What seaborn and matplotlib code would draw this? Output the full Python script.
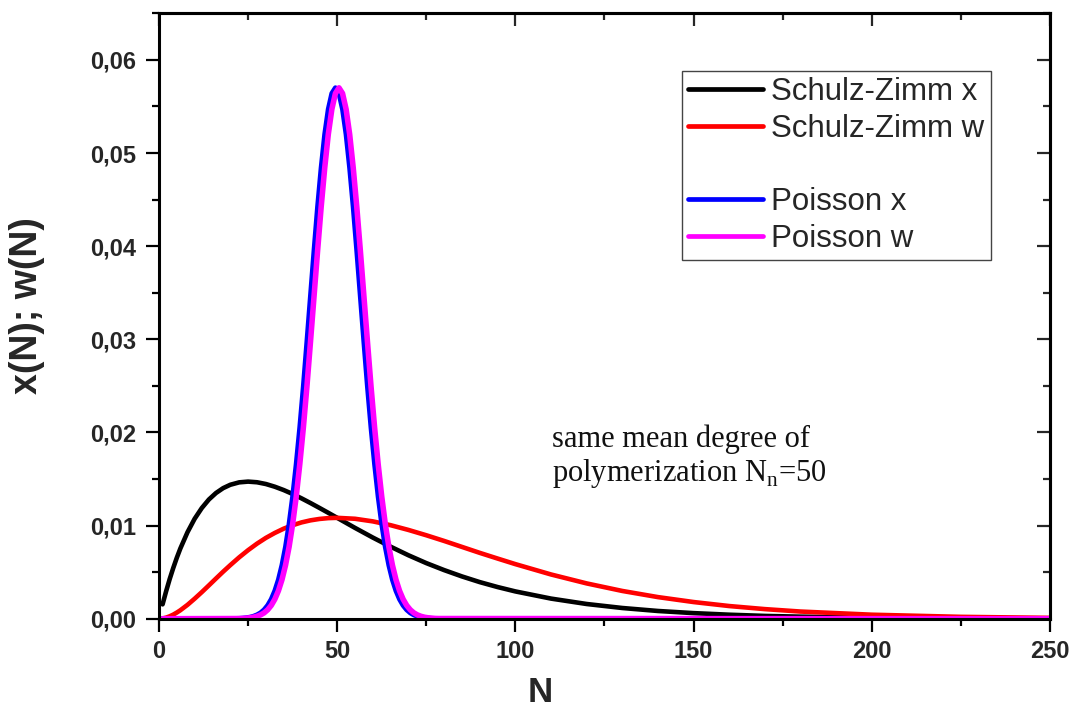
import numpy as np
import pandas as pd
import matplotlib
matplotlib.use("Agg")
import matplotlib.pyplot as plt
from matplotlib.lines import Line2D
import seaborn as sns

# ---------------- data ----------------
sz_N = [1, 2, 3, 4, 5, 6, 8, 10, 12, 14, 16, 18, 20, 22.5, 25, 27.5, 30, 32.5, 35,
        37.5, 40, 42.5, 45, 47.5, 50, 55, 60, 65, 70, 75, 80, 85, 90, 95, 100,
        110, 120, 130, 140, 150, 160, 170, 180, 200, 225, 250]
sz_x = [0.00154, 0.00295, 0.00426, 0.00545, 0.00655, 0.00755, 0.00929, 0.01073,
        0.01188, 0.01280, 0.01350, 0.01402, 0.01438, 0.01464, 0.01472, 0.01465,
        0.01446, 0.01417, 0.01381, 0.01339, 0.01292, 0.01242, 0.01190, 0.01137,
        0.01083, 0.00975, 0.00871, 0.00773, 0.00681, 0.00597, 0.00522, 0.00454,
        0.00393, 0.00340, 0.00293, 0.00216, 0.00158, 0.00115, 0.00083, 0.00060,
        0.00043, 0.00030, 0.00022, 0.00011, 0.00004, 0.00002]
szw_N = [0, 1, 2, 3, 4, 5, 6, 8, 10, 12, 14, 16, 18, 20, 22.5, 25, 27.5, 30, 32.5, 35,
         37.5, 40, 42.5, 45, 47.5, 50, 55, 60, 65, 70, 75, 80, 85, 90, 95, 100,
         110, 120, 130, 140, 150, 160, 170, 180, 200, 225, 250]
sz_w = [0.0, 0.00003, 0.00012, 0.00026, 0.00044, 0.00066, 0.00091, 0.00149, 0.00215,
        0.00285, 0.00358, 0.00432, 0.00505, 0.00575, 0.00659, 0.00736, 0.00806,
        0.00868, 0.00921, 0.00967, 0.01004, 0.01034, 0.01056, 0.01071, 0.01080,
        0.01083, 0.01073, 0.01045, 0.01004, 0.00953, 0.00896, 0.00835, 0.00771,
        0.00707, 0.00646, 0.00586, 0.00475, 0.00379, 0.00298, 0.00232, 0.00179,
        0.00136, 0.00103, 0.00077, 0.00043, 0.00020, 0.00009]

po_x_N = [1.0, 21.5, 22.5, 23.5, 24.5, 25.5, 26.5, 27.5, 28.5, 29.5, 30.5, 31.5, 32.5,
          33.5, 34.5, 35.5, 36.5, 37.5, 38.5, 39.5, 40.5, 41.5, 42.5, 43.5, 44.5,
          45.5, 46.5, 47.5, 48.5, 49.5, 50.5, 51.5, 52.5, 53.5, 54.5, 55.5, 56.5,
          57.5, 58.5, 59.5, 60.5, 61.5, 62.5, 63.5, 64.5, 65.5, 66.5, 67.5, 68.5,
          69.5, 70.5, 71.5, 72.5, 73.5, 74.5, 75.5, 76.5, 77.5, 250.0]
po_w_N = [1.0, 22.5, 23.5, 24.5, 25.5, 26.5, 27.5, 28.5, 29.5, 30.5, 31.5, 32.5, 33.5,
          34.5, 35.5, 36.5, 37.5, 38.5, 39.5, 40.5, 41.5, 42.5, 43.5, 44.5, 45.5,
          46.5, 47.5, 48.5, 49.5, 50.5, 51.5, 52.5, 53.5, 54.5, 55.5, 56.5, 57.5,
          58.5, 59.5, 60.5, 61.5, 62.5, 63.5, 64.5, 65.5, 66.5, 67.5, 68.5, 69.5,
          70.5, 71.5, 72.5, 73.5, 74.5, 75.5, 76.5, 77.5, 78.5, 250.0]
po_vals = [0.0, 0.00002, 0.00003, 0.00006, 0.0001, 0.00016, 0.00026, 0.00041, 0.00063,
           0.00096, 0.00143, 0.00209, 0.00299, 0.00418, 0.00574, 0.00771, 0.01016,
           0.0131, 0.01658, 0.0205, 0.0249, 0.0297, 0.0346, 0.0395, 0.0442, 0.0484,
           0.0520, 0.0547, 0.0564, 0.0570, 0.0564, 0.0547, 0.0520, 0.0484, 0.0442,
           0.0395, 0.0346, 0.0297, 0.0249, 0.0205, 0.01658, 0.0131, 0.01016, 0.00771,
           0.00574, 0.00418, 0.00299, 0.00209, 0.00143, 0.00096, 0.00063, 0.00041,
           0.00026, 0.00016, 0.0001, 0.00006, 0.00003, 0.00002, 0.0]

labels = ["Schulz-Zimm x", "Schulz-Zimm w", "Poisson x", "Poisson w"]
colors = ["#000000", "#ff0000", "#0000ff", "#ff00ff"]

x_ticks = [0, 50, 100, 150, 200, 250]
x_tick_labels = ["0", "50", "100", "150", "200", "250"]
x_minor = [25, 75, 125, 175, 225]
y_ticks = [0.0, 0.01, 0.02, 0.03, 0.04, 0.05, 0.06]
y_tick_labels = ["0,00", "0,01", "0,02", "0,03", "0,04", "0,05", "0,06"]
y_minor = [0.005, 0.015, 0.025, 0.035, 0.045, 0.055, 0.065]

# ---------------- styling ----------------
sns.set_theme(style="white")
plt.rcParams["font.family"] = ["Liberation Sans", "DejaVu Sans"]
plt.rcParams["mathtext.fontset"] = "custom"
plt.rcParams["mathtext.rm"] = "Liberation Serif"

fig = plt.figure(figsize=(10.78, 7.11), dpi=100)
ax = fig.add_axes([0.1475, 0.1298, 0.8265, 0.8515])

series = [
    (sz_N, sz_x, 3.3),
    (szw_N, sz_w, 3.3),
    (po_x_N, po_vals, 3.6),
    (po_w_N, po_vals, 4.0),
]
for (xs, ys, lw), lab, col in zip(series, labels, colors):
    df = pd.DataFrame({"N": xs, "v": ys})
    sns.lineplot(data=df, x="N", y="v", ax=ax, color=col, lw=lw,
                 estimator=None, sort=False, legend=False)

ax.set_xlim(0, 250)
ax.set_ylim(0, 0.065)

ax.set_xticks(x_ticks)
ax.set_xticklabels(x_tick_labels)
ax.set_yticks(y_ticks)
ax.set_yticklabels(y_tick_labels)
ax.set_xticks(x_minor, minor=True)
ax.set_yticks(y_minor, minor=True)

for s in ax.spines.values():
    s.set_linewidth(2.2)
    s.set_color("black")

ax.tick_params(axis="both", which="major", direction="out", length=9.5, width=1.6,
               color="black", labelsize=17)
ax.tick_params(axis="both", which="minor", direction="out", length=5, width=1.6,
               color="black")
ax.tick_params(axis="y", which="major", pad=7)
ax.tick_params(axis="x", which="major", pad=6)
ax.tick_params(left=True, bottom=True, which="both")
for t in ax.get_xticklabels() + ax.get_yticklabels():
    t.set_fontweight("bold")

# top / right inward ticks
secx = ax.secondary_xaxis("top")
secx.set_xticks(x_ticks)
secx.set_xticks(x_minor, minor=True)
secx.tick_params(which="major", direction="in", length=9.5, width=1.6, labeltop=False)
secx.tick_params(which="minor", direction="in", length=5, width=1.6)
secx.set_xticklabels([])
secx.spines["top"].set_linewidth(2.2)
secy = ax.secondary_yaxis("right")
secy.set_yticks(y_ticks)
secy.set_yticks(y_minor, minor=True)
secy.tick_params(which="major", direction="in", length=9.5, width=1.6, labelright=False)
secy.tick_params(which="minor", direction="in", length=5, width=1.6)
secy.set_yticklabels([])
secy.spines["right"].set_linewidth(2.2)

ax.set_xlabel("N", fontsize=25, fontweight="bold")
ax.xaxis.set_label_coords(0.4276, -0.094)
ax.set_ylabel("x(N); w(N)", fontsize=27, fontweight="bold")
ax.yaxis.set_label_coords(-0.128, 0.518)

# legend with a blank entry between groups
handles = [Line2D([], [], color=colors[0], lw=3.4),
           Line2D([], [], color=colors[1], lw=3.4),
           Line2D([], [], color="none", lw=0),
           Line2D([], [], color=colors[2], lw=3.4),
           Line2D([], [], color=colors[3], lw=3.4)]
leg_labels = [labels[0], labels[1], " ", labels[2], labels[3]]
leg = ax.legend(handles, leg_labels, loc="upper left", bbox_to_anchor=(0.587, 0.9045),
                fontsize=22.5, frameon=True, fancybox=False, shadow=False,
                handlelength=2.4, handletextpad=0.25, labelspacing=0.21,
                borderpad=0.2, borderaxespad=0)
leg.get_frame().set_edgecolor("#444444")
leg.get_frame().set_linewidth(1.0)
leg.get_frame().set_alpha(1)

ax.text(110.4, 0.0208, "same mean degree of\npolymerization N$_\\mathregular{n}$=50",
        fontsize=22, family=["Liberation Serif", "DejaVu Serif"], va="top",
        ha="left", linespacing=1.1, color="#111111")

fig.savefig("out.png", dpi=100)
